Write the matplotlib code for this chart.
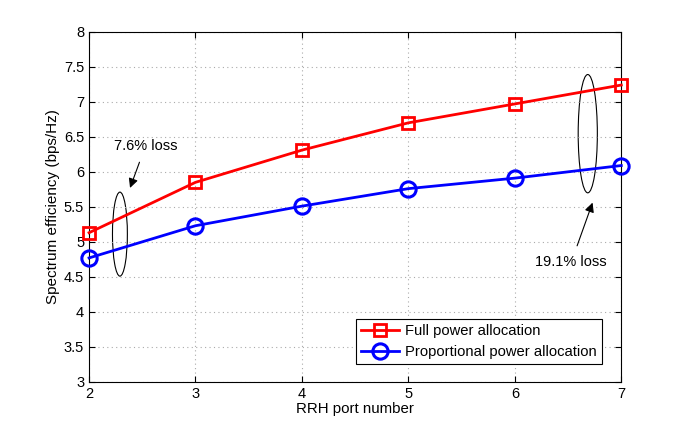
import matplotlib
matplotlib.use('Agg')
import matplotlib.pyplot as plt
from matplotlib.patches import Ellipse

plt.rcParams['font.family'] = ['Liberation Sans', 'DejaVu Sans']

ports = [2, 3, 4, 5, 6, 7]
full_power = [5.13, 5.85, 6.31, 6.70, 6.97, 7.24]
prop_power = [4.77, 5.23, 5.51, 5.76, 5.91, 6.09]

fig = plt.figure(figsize=(6.85, 4.3), dpi=100)
ax = fig.add_axes([0.130, 0.112, 0.777, 0.814])

ax.plot(ports, full_power, '-s', color='#ff0000', lw=2, ms=8, mew=2,
        mfc='none', label='Full power allocation', clip_on=False, zorder=3)
ax.plot(ports, prop_power, '-o', color='#0000ff', lw=2, ms=11, mew=2.2,
        mfc='none', label='Proportional power allocation', clip_on=False, zorder=3)

ax.set_xlim(2, 7)
ax.set_ylim(3, 8)
ax.set_xticks(ports)
ax.set_yticks([3, 3.5, 4, 4.5, 5, 5.5, 6, 6.5, 7, 7.5, 8])
ax.set_yticklabels(['3', '3.5', '4', '4.5', '5', '5.5', '6', '6.5', '7', '7.5', '8'])
ax.tick_params(direction='in', top=True, right=True, labelsize=10.5, length=4)
ax.grid(True, linestyle=(0, (1, 3)), color='#aaaaaa', lw=0.8)
ax.set_xlabel('RRH port number', fontsize=10.8, labelpad=1)
ax.set_ylabel('Spectrum efficiency (bps/Hz)', fontsize=11, labelpad=3)

# loss markers
ax.add_patch(Ellipse((2.29, 5.11), 0.14, 1.2, fill=False, ec='black', lw=0.8))
ax.add_patch(Ellipse((6.685, 6.545), 0.18, 1.69, fill=False, ec='black', lw=0.8))

ax.annotate('7.6% loss', xy=(2.385, 5.77), xytext=(2.53, 6.37),
            ha='center', va='center', fontsize=10.5,
            arrowprops=dict(arrowstyle='-|>', color='black', lw=0.8,
                            mutation_scale=14, shrinkA=5, shrinkB=0))
ax.annotate('19.1% loss', xy=(6.73, 5.56), xytext=(6.53, 4.71),
            ha='center', va='center', fontsize=10.5,
            arrowprops=dict(arrowstyle='-|>', color='black', lw=0.8,
                            mutation_scale=14, shrinkA=5, shrinkB=0))

leg = ax.legend(loc='lower right', bbox_to_anchor=(0.964, 0.051), fontsize=10.6,
                fancybox=False, edgecolor='black', framealpha=1, borderaxespad=0,
                handlelength=2.6, handletextpad=0.4, borderpad=0.35, labelspacing=0.45)
leg.get_frame().set_linewidth(0.8)

fig.savefig('out.png', dpi=100)
